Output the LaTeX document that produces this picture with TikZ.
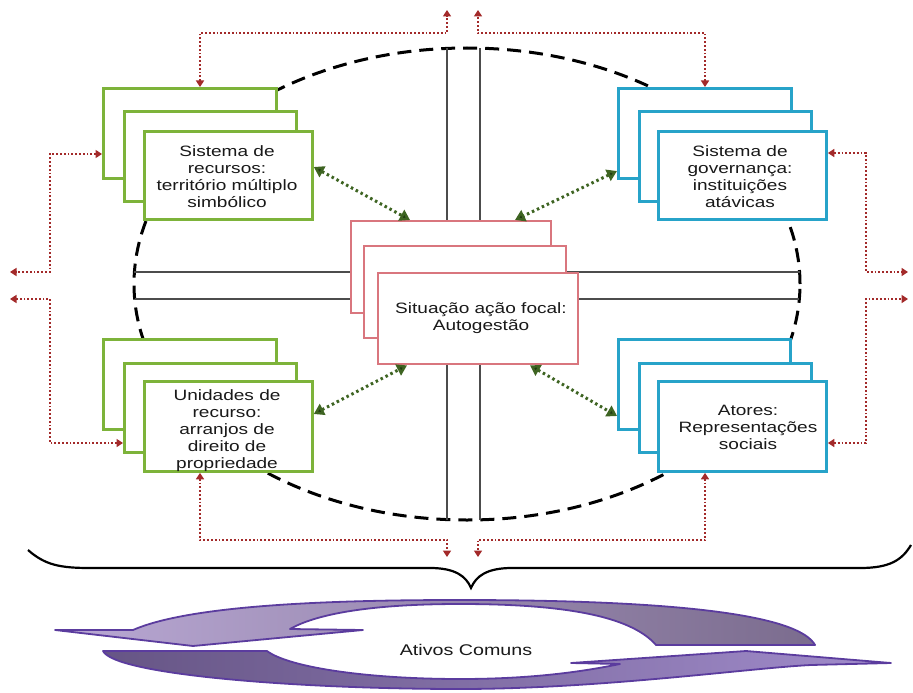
\documentclass[tikz,border=0pt]{standalone}
\usepackage{fontspec}
\setmainfont{Liberation Sans}[FakeStretch=1.27]
\usetikzlibrary{arrows.meta,calc}
\definecolor{boxgreen}{HTML}{7DB33A}
\definecolor{boxblue}{HTML}{27A3C9}
\definecolor{boxpink}{HTML}{D9767E}
\definecolor{dotred}{HTML}{A32A2A}
\definecolor{dotgreen}{HTML}{3E6422}
\definecolor{tipgreen}{HTML}{1F3A12}
\definecolor{purpleline}{HTML}{5B3C9E}
\definecolor{lavlight}{HTML}{B9A8D4}
\definecolor{lavdark}{HTML}{7B6C8E}
\definecolor{lowdark}{HTML}{665585}
\definecolor{lowlight}{HTML}{A18CCB}
\begin{document}
\begin{tikzpicture}[x=1pt,y=-1pt,
  card/.style={draw, fill=white, line width=2.8pt, inner sep=0pt, anchor=north west},
  gcard/.style={card, draw=boxgreen},
  bcard/.style={card, draw=boxblue},
  pcard/.style={card, draw=boxpink, line width=2.4pt},
  cardtext/.style={font=\fontsize{15}{17}\selectfont, align=center, text=black!90, inner sep=0pt},
  ring/.style={draw=black, line width=3pt, dash pattern=on 14pt off 8pt},
  axis/.style={draw=black!70, line width=1.4pt},
  redarr/.style={draw=dotred, line width=2.4pt, dash pattern=on 1.8pt off 2pt,
     {Triangle[width=8pt,length=6.5pt,fill=dotred]}-{Triangle[width=8pt,length=6.5pt,fill=dotred]}},
  greenarr/.style={draw=dotgreen, line width=3pt, dash pattern=on 2.5pt off 3pt,
     {Triangle[width=12pt,length=10pt,fill=tipgreen]}-{Triangle[width=12pt,length=10pt,fill=tipgreen]}},
  bracestyle/.style={draw=black, line width=2.2pt},
  purplearrow/.style={draw=purpleline, line width=1.8pt, line join=round}
]
\useasboundingbox (0,0) rectangle (913,693);

% dashed ring
\coordinate (ringc) at (467,284);
\draw[ring] (ringc) ellipse [x radius=333pt, y radius=236pt];

% cross lines
\coordinate (vt1) at (447,48.4);  \coordinate (vb1) at (447,519.6);
\coordinate (vt2) at (480,48.2);  \coordinate (vb2) at (480,519.8);
\coordinate (hl1) at (134.4,272); \coordinate (hr1) at (799.6,272);
\coordinate (hl2) at (134.7,299); \coordinate (hr2) at (799.3,299);
\draw[axis] (vt1) -- (vb1);
\draw[axis] (vt2) -- (vb2);
\draw[axis] (hl1) -- (hr1);
\draw[axis] (hl2) -- (hr2);

% top-left stack
\node[gcard, minimum width=173pt, minimum height=90pt] (tl1) at (102,87) {};
\node[gcard, minimum width=172pt, minimum height=90pt] (tl2) at (123,110) {};
\node[gcard, minimum width=168pt, minimum height=88pt] (tl3) at (143,130) {};
% top-right stack
\node[bcard, minimum width=173pt, minimum height=90pt] (tr1) at (617,87) {};
\node[bcard, minimum width=172pt, minimum height=90pt] (tr2) at (638,110) {};
\node[bcard, minimum width=168pt, minimum height=88pt] (tr3) at (657,130) {};
% bottom-left stack
\node[gcard, minimum width=173pt, minimum height=90pt] (bl1) at (102,338) {};
\node[gcard, minimum width=172pt, minimum height=89pt] (bl2) at (123,362) {};
\node[gcard, minimum width=168pt, minimum height=90pt] (bl3) at (143,380) {};
% bottom-right stack
\node[bcard, minimum width=172pt, minimum height=90pt] (br1) at (617,338) {};
\node[bcard, minimum width=172pt, minimum height=89pt] (br2) at (638,362) {};
\node[bcard, minimum width=168pt, minimum height=90pt] (br3) at (657,380) {};
% centre stack
\node[pcard, minimum width=200pt, minimum height=92pt] (c1) at (350,220) {};
\node[pcard, minimum width=202pt, minimum height=92pt] (c2) at (363,245) {};
\node[pcard, minimum width=200pt, minimum height=91pt] (c3) at (377,272) {};

% texts
\node[cardtext] (tlt) at (227,177) {Sistema de\\recursos:\\território múltiplo\\simbólico};
\node[cardtext] (trt) at (740,177) {Sistema de\\governança:\\instituições\\atávicas};
\node[cardtext] (blt) at (227,431) {Unidades de\\recurso:\\arranjos de\\direito de\\propriedade};
\node[cardtext] (brt) at (748,427) {Atores:\\Representações\\sociais};
\node[cardtext] (ct) at (481,318) {Situação ação focal:\\Autogestão};

% green dotted double arrows
\coordinate (g1a) at (0,167);   \coordinate (g1b) at (410,0);
\coordinate (g2a) at (0,171);   \coordinate (g2b) at (515,0);
\coordinate (g3a) at (0,414);   \coordinate (g3b) at (407,0);
\coordinate (g4a) at (530,0);   \coordinate (g4b) at (0,416);
\draw[greenarr] (tl3.east |- g1a) -- (c1.north -| g1b);
\draw[greenarr] (tr1.west |- g2a) -- (c1.north -| g2b);
\draw[greenarr] (bl3.east |- g3a) -- (c3.south -| g3b);
\draw[greenarr] (c3.south -| g4a) -- (br1.west |- g4b);

% red dotted feedback arrows
\coordinate (r1) at (200,33); \coordinate (r1b) at (447,33); \coordinate (o1) at (447,10);
\coordinate (r2) at (705,33); \coordinate (r2b) at (478,33); \coordinate (o2) at (478,10);
\coordinate (r3) at (50,154); \coordinate (r3b) at (50,272); \coordinate (o3) at (10,272);
\coordinate (r4) at (50,443); \coordinate (r4b) at (50,299); \coordinate (o4) at (10,299);
\coordinate (r5) at (866,153); \coordinate (r5b) at (866,272); \coordinate (o5) at (908,272);
\coordinate (r6) at (866,443); \coordinate (r6b) at (866,299); \coordinate (o6) at (908,299);
\coordinate (r7) at (200,540); \coordinate (r7b) at (447,540); \coordinate (o7) at (447,557);
\coordinate (r8) at (705,540); \coordinate (r8b) at (478,540); \coordinate (o8) at (478,557);
\draw[redarr] (tl1.north -| r1) -- (r1) -- (r1b) -- (o1);
\draw[redarr] (tr1.north -| r2) -- (r2) -- (r2b) -- (o2);
\draw[redarr] (tl1.west |- r3) -- (r3) -- (r3b) -- (o3);
\draw[redarr] (bl2.west |- r4) -- (r4) -- (r4b) -- (o4);
\draw[redarr] (tr3.east |- r5) -- (r5) -- (r5b) -- (o5);
\draw[redarr] (br3.east |- r6) -- (r6) -- (r6b) -- (o6);
\draw[redarr] (bl3.south -| r7) -- (r7) -- (r7b) -- (o7);
\draw[redarr] (br3.south -| r8) -- (r8) -- (r8b) -- (o8);

% brace
\draw[bracestyle] (28,550) .. controls (45,565) and (60,568) .. (90,568) -- (430,568)
  .. controls (455,568) and (466,576) .. (471,588)
  .. controls (476,576) and (487,568) .. (512,568) -- (860,568)
  .. controls (890,568) and (902,560) .. (911,545);

% circular arrows
\shade[purplearrow, left color=lavlight, right color=lavdark]
  (815,645) .. controls (800,618) and (700,600) .. (460,600)
  .. controls (330,600) and (190,605) .. (133,630)
  -- (55,630) -- (193,646) -- (363,630) -- (290,629)
  .. controls (320,612) and (380,604) .. (460,604)
  .. controls (560,604) and (630,615) .. (656,645) -- cycle;
\shade[purplearrow, left color=lowdark, right color=lowlight]
  (103,651) -- (267,651)
  .. controls (290,668) and (370,679) .. (460,679)
  .. controls (540,679) and (590,670) .. (620,664)
  -- (571,663) -- (746,651) -- (891,663) -- (811,665)
  .. controls (750,668) and (600,689) .. (460,689)
  .. controls (300,689) and (115,675) .. (103,651) -- cycle;
\node[font=\fontsize{15.5}{18}\selectfont, text=black!90] (ativos) at (466,650) {Ativos Comuns};
\end{tikzpicture}
\end{document}
